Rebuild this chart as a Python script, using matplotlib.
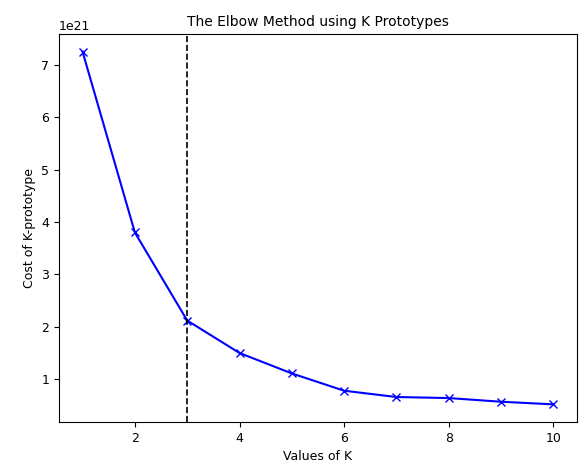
import numpy as np
import matplotlib
matplotlib.use("Agg")
import matplotlib.pyplot as plt

k_values = [1, 2, 3, 4, 5, 6, 7, 8, 9, 10]
cost = [7.25e21, 3.80e21, 2.12e21, 1.50e21, 1.11e21, 0.78e21, 0.66e21, 0.64e21, 0.57e21, 0.52e21]
elbow_k = 3

fig = plt.figure(figsize=(5.79, 4.66), dpi=100)
ax = fig.add_axes([59 / 579, 44 / 466, 518 / 579, 388 / 466])

ax.plot(k_values, cost, 'bx-')
ax.axvline(x=elbow_k, color='black', linestyle='--', linewidth=1.2)

ax.set_xlabel("Values of K", fontsize=9)
ax.set_ylabel("Cost of K-prototype", fontsize=9)
ax.set_title("The Elbow Method using K Prototypes", fontsize=10)
ax.tick_params(labelsize=9)
ax.yaxis.get_offset_text().set_fontsize(9)

plt.savefig("out.png", dpi=100)
